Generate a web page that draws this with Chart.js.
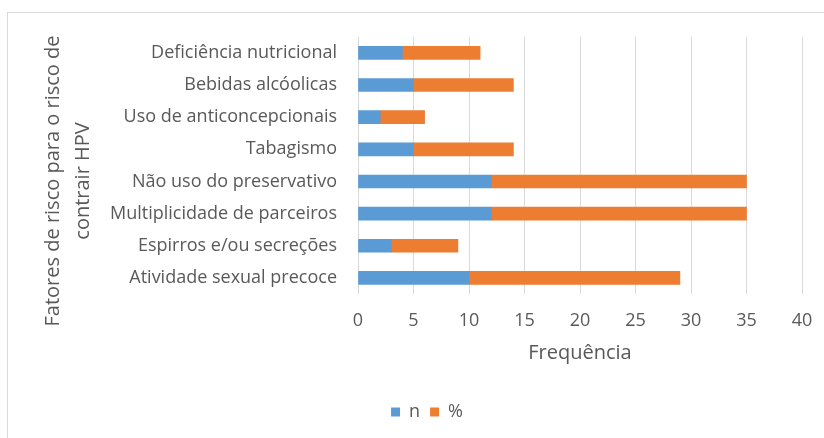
<!DOCTYPE html>
<html>
<head>
<meta charset="utf-8">
<script src="https://cdn.jsdelivr.net/npm/chart.js@4"></script>
<style>
  html, body { margin: 0; padding: 0; background: #fff; overflow: hidden; }
  #box {
    position: absolute; left: 7px; top: 12px;
    width: 838px; height: 430px;
    border: 1px solid #d9d9d9;
  }
</style>
</head>
<body>
<div id="box"><canvas id="chart" width="838" height="430"></canvas></div>
<script>
// Fatores de risco (top to bottom as in the figure)
const categorias = [
  'Deficiência nutricional',
  'Bebidas alcóolicas',
  'Uso de anticoncepcionais',
  'Tabagismo',
  'Não uso do preservativo',
  'Multiplicidade de parceiros',
  'Espirros e/ou secreções',
  'Atividade sexual precoce'
];
const valoresN = [4, 5, 2, 5, 12, 12, 3, 10];
const valoresPct = [7, 9, 4, 9, 23, 23, 6, 19];
const ticksX = [0, 5, 10, 15, 20, 25, 30, 35, 40];

const cinza = '#595959';
const fonte = 'Open Sans';

const ctx = document.getElementById('chart').getContext('2d');
const chart = new Chart(ctx, {
  type: 'bar',
  data: {
    labels: categorias,
    datasets: [
      { label: 'n', data: valoresN, backgroundColor: '#5B9BD5', barThickness: 13 },
      { label: '%', data: valoresPct, backgroundColor: '#ED7D31', barThickness: 13 }
    ]
  },
  options: {
    indexAxis: 'y',
    responsive: false,
    animation: false,
    // left padding keeps the legend centred like the original
    layout: { padding: { top: 23, right: 44, bottom: 12, left: 44 } },
    plugins: {
      tooltip: { enabled: false },
      legend: {
        position: 'bottom',
        labels: {
          color: cinza,
          font: { family: fonte, size: 18 },
          boxWidth: 9,
          boxHeight: 9,
          padding: 10
        }
      }
    },
    scales: {
      x: {
        stacked: true,
        min: 0,
        max: 40,
        afterBuildTicks: (scale) => { scale.ticks = ticksX.map(v => ({ value: v })); },
        afterFit: (scale) => { scale.height = 99; },
        grid: { color: '#d9d9d9', drawTicks: false },
        border: { display: false },
        ticks: { color: cinza, font: { family: fonte, size: 18 }, padding: 16 },
        title: {
          display: true,
          text: 'Frequência',
          color: cinza,
          font: { family: fonte, size: 20 },
          padding: { top: 0, bottom: 28 }
        }
      },
      y: {
        stacked: true,
        afterFit: (scale) => { scale.width = 306; },
        grid: { display: false },
        border: { display: false },
        ticks: { color: cinza, font: { family: fonte, size: 18 }, padding: 13 },
        title: {
          display: true,
          text: ['Fatores de risco para o risco de      ', 'contrair HPV      '],
          color: cinza,
          font: { family: fonte, size: 20, lineHeight: '30px' },
          padding: { top: -14, bottom: 0 }
        }
      }
    }
  }
});
</script>
</body>
</html>
